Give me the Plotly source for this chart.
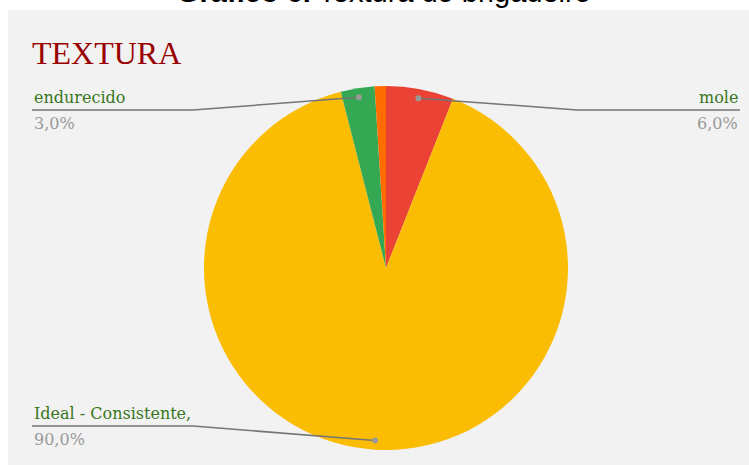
import math
import plotly.graph_objects as go

# ---- data ----
labels = ["mole", "Ideal - Consistente,", "endurecido", "outro"]
values = [6.0, 90.0, 3.0, 1.0]
pct_text = ["6,0%", "90,0%", "3,0%", ""]
show_label = [True, True, True, False]
colors = ["#ea4335", "#fbbc04", "#34a853", "#ff6d01"]

chart_title = "<b>Gráfico 6.</b> Textura do brigadeiro"
panel_title = "TEXTURA"

# ---- layout geometry (pixels) ----
W, H = 749, 465
CX, CY, R = 386, 268, 182
LEFT_X, RIGHT_X = 32, 740
ELBOW_L, ELBOW_R = 193, 577
ROW_TOP, ROW_BOTTOM = 110, 426


def px(x):
    return x / W


def py(y):
    return 1 - y / H


fig = go.Figure()
fig.add_trace(go.Pie(
    labels=labels, values=values, sort=False, direction="clockwise", rotation=0,
    marker=dict(colors=colors, line=dict(width=0)),
    textinfo="none", hoverinfo="label+percent", showlegend=False,
    domain=dict(x=[px(CX - R), px(CX + R)], y=[py(CY + R), py(CY - R)]),
))

shapes = [dict(type="rect", xref="paper", yref="paper", layer="below",
               x0=px(8), x1=1, y0=0, y1=py(10), fillcolor="#f2f2f2", line=dict(width=0))]
annotations = [
    dict(text=chart_title, x=px(384), y=py(10), xref="paper", yref="paper",
         xanchor="center", yanchor="bottom", showarrow=False,
         font=dict(family="Liberation Sans, Arial", size=29, color="#000000")),
    dict(text=panel_title, x=px(30), y=py(33), xref="paper", yref="paper",
         xanchor="left", yanchor="top", showarrow=False,
         font=dict(family="Liberation Serif, serif", size=32, color="#990000")),
]

total = sum(values)
cum = 0.0
for lab, v, pt, show in zip(labels, values, pct_text, show_label):
    mid = (cum + v / 2) / total * 2 * math.pi
    cum += v
    if not show:
        continue
    dx = 0.95 * R * math.sin(mid)
    dy = -0.95 * R * math.cos(mid)
    dotx, doty = CX + dx, CY + dy
    right = dx > 0
    row = ROW_TOP if dy < 0 else ROW_BOTTOM
    elbow = ELBOW_R if right else ELBOW_L
    end = RIGHT_X if right else LEFT_X
    shapes.append(dict(type="path", xref="paper", yref="paper",
                       path=f"M {px(dotx)},{py(doty)} L {px(elbow)},{py(row)} L {px(end)},{py(row)}",
                       line=dict(color="#757575", width=1.5)))
    shapes.append(dict(type="circle", xref="paper", yref="paper",
                       x0=px(dotx - 3), x1=px(dotx + 3), y0=py(doty + 3), y1=py(doty - 3),
                       fillcolor="#999999", line=dict(width=0)))
    anchor = "right" if right else "left"
    annotations.append(dict(text=lab, x=px(end), y=py(row - 1), xref="paper", yref="paper",
                            xanchor=anchor, yanchor="bottom", showarrow=False,
                            font=dict(family="DejaVu Serif, serif", size=16, color="#38761d")))
    annotations.append(dict(text=pt, x=px(end), y=py(row + 2), xref="paper", yref="paper",
                            xanchor=anchor, yanchor="top", showarrow=False,
                            font=dict(family="DejaVu Serif, serif", size=16, color="#999999")))

fig.update_layout(width=W, height=H, margin=dict(l=0, r=0, t=0, b=0),
                  paper_bgcolor="#ffffff", plot_bgcolor="#ffffff",
                  shapes=shapes, annotations=annotations)
fig.write_html("out.html")
